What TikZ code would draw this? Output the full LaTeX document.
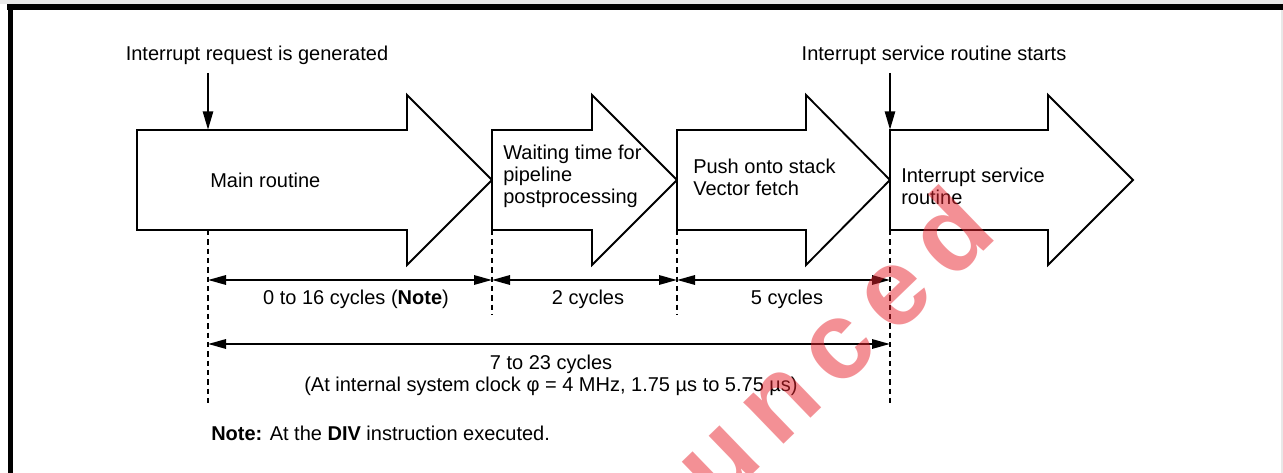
\documentclass[tikz,border=0pt]{standalone}
\usepackage{fontspec}
\setmainfont{Liberation Sans}
\usetikzlibrary{arrows.meta}
\definecolor{wmred}{RGB}{232,35,45}
\definecolor{edgegray}{RGB}{232,232,232}
\begin{document}
\begin{tikzpicture}[x=0.75pt,y=-0.75pt,
  blk/.style={draw=black, line width=1.4pt, fill=white, line join=miter},
  lbl/.style={inner sep=0pt, font=\fontsize{15}{16.5}\selectfont},
  boxtxt/.style={lbl, anchor=west, align=left},
  dimline/.style={line width=1.6pt, {Triangle[length=13.5pt,width=7pt]}-{Triangle[length=13.5pt,width=7pt]}},
  guide/.style={line width=0.9pt, dash pattern=on 4pt off 3pt},
  evt/.style={line width=2pt, -{Triangle[length=14pt,width=7.5pt]}},
  wm/.style={inner sep=0pt, text=wmred, text opacity=0.5, font=\fontsize{82}{82}\selectfont\bfseries},
]
\useasboundingbox (0,0) rectangle (1283,473);
% page frame
\fill[white] (0,0) rectangle (1283,473);
\fill[edgegray] (0,0) rectangle (1283,4);
\fill[edgegray] (1281,0) rectangle (1283,473);
\fill[black] (7,4) rectangle (1283,10);
\fill[black] (8,4) rectangle (13,473);

% block arrows
\draw[blk] (137,130) -- (407,130) -- (407,95) -- (492,180) -- (407,265) -- (407,230) -- (137,230) -- cycle;
\draw[blk] (492,130) -- (592,130) -- (592,95) -- (677,180) -- (592,265) -- (592,230) -- (492,230) -- cycle;
\draw[blk] (677,130) -- (806,130) -- (806,95) -- (890,180) -- (806,265) -- (806,230) -- (677,230) -- cycle;
\draw[blk] (890,130) -- (1048,130) -- (1048,95) -- (1133,180) -- (1048,265) -- (1048,230) -- (890,230) -- cycle;

\node[boxtxt] (mainr) at (210,180) {Main routine};
\node[boxtxt] (waitr) at (503,176) {Waiting time for\\pipeline\\postprocessing};
\node[boxtxt] (pushr) at (693,177) {Push onto stack\\Vector fetch};
\node[boxtxt] (isrr) at (901,186) {Interrupt service\\routine};

% events
\node[lbl] (req) at (257,55) {Interrupt request is generated};
\node[lbl] (isrs) at (934,55) {Interrupt service routine starts};
\coordinate (reqfrom) at (208,73);
\coordinate (reqto) at (208,130);
\coordinate (isrfrom) at (890,73);
\coordinate (isrto) at (890,130);
\draw[evt] (reqfrom) -- (reqto);
\draw[evt] (isrfrom) -- (isrto);

% guide lines
\coordinate (g0a) at (208,230); \coordinate (g0b) at (208,403);
\coordinate (g1a) at (492,230); \coordinate (g1b) at (492,315);
\coordinate (g2a) at (677,230); \coordinate (g2b) at (677,315);
\coordinate (g3a) at (890,230); \coordinate (g3b) at (890,403);
\draw[guide] (g0a) -- (g0b);
\draw[guide] (g1a) -- (g1b);
\draw[guide] (g2a) -- (g2b);
\draw[guide] (g3a) -- (g3b);

% dimensions
\coordinate (d0) at (208,280); \coordinate (d1) at (492,280);
\coordinate (d2) at (677,280); \coordinate (d3) at (890,280);
\coordinate (e0) at (208,344); \coordinate (e3) at (890,344);
\draw[dimline] (d0) -- (d1);
\draw[dimline] (d1) -- (d2);
\draw[dimline] (d2) -- (d3);
\draw[dimline] (e0) -- (e3);

\node[lbl] (c016) at (356,299) {0 to 16 cycles (\textbf{Note})};
\node[lbl] (c2) at (588,299) {2 cycles};
\node[lbl] (c5) at (787,299) {5 cycles};
\node[lbl] (c723) at (551,364) {7 to 23 cycles};
\node[lbl] (clk) at (551,386) {(At internal system clock φ = 4 MHz, 1.75 µs to 5.75 µs)};

\node[lbl, anchor=west] (note) at (211,433) {\textbf{Note:} At the \textbf{DIV} instruction executed.};

% watermark
\begin{scope}
\clip (0,0) rectangle (1283,473);
\node[wm, rotate=44, anchor=base west] (wmark) at (657,567) {o\kern13pt u\kern13pt n\kern13pt c\kern13pt e\kern13pt d};
\end{scope}
\end{tikzpicture}
\end{document}
